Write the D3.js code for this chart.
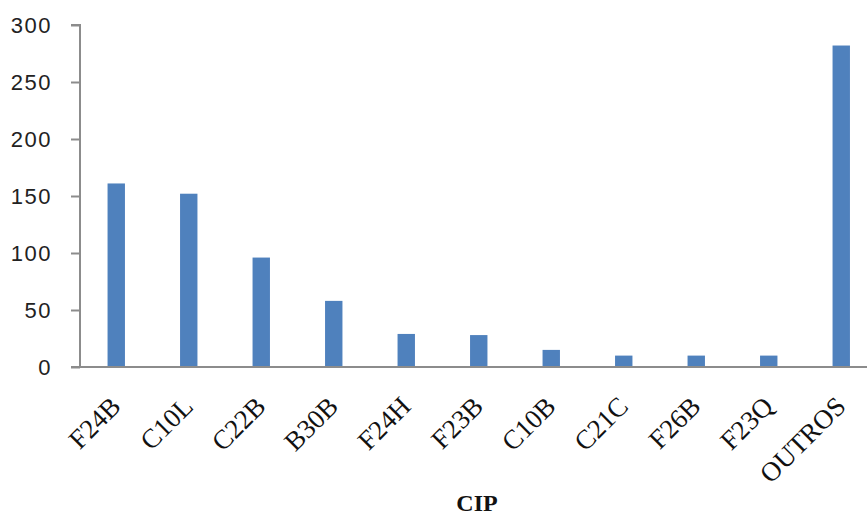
<!DOCTYPE html>
<html>
<head>
<meta charset="utf-8">
<script src="https://cdn.jsdelivr.net/npm/d3@7"></script>
<style>
  html, body { margin: 0; padding: 0; background: #fff; }
  svg { display: block; }
</style>
</head>
<body>
<svg id="chart" width="867" height="517"></svg>
<script>
const categories = ["F24B", "C10L", "C22B", "B30B", "F24H", "F23B", "C10B", "C21C", "F26B", "F23Q", "OUTROS"];
const values = [161, 152, 96, 58, 29, 28, 15, 10, 10, 10, 282];
const yTicks = [0, 50, 100, 150, 200, 250, 300];
const xTitle = "CIP";

const svg = d3.select("#chart");
const axisColor = "#8c8c8c";

const x = d3.scaleBand()
  .domain(categories)
  .range([80, 877.5])
  .paddingInner(0.76)
  .paddingOuter(0.38);

const y = d3.scaleLinear()
  .domain([0, 300])
  .range([367, 25]);

// bars
svg.append("g")
  .selectAll("rect")
  .data(categories.map((c, i) => ({c, v: values[i]})))
  .join("rect")
  .attr("x", d => x(d.c))
  .attr("y", d => y(d.v))
  .attr("width", x.bandwidth())
  .attr("height", d => y(0) - y(d.v))
  .attr("fill", "#4f81bd");

// y axis
const yAxis = d3.axisLeft(y).tickValues(yTicks).tickSize(9).tickPadding(19);
const gy = svg.append("g").attr("transform", "translate(80,0)").call(yAxis);
gy.select(".domain").attr("stroke", axisColor).attr("stroke-width", 2).attr("d", `M-9,${y(300)}H0V${y(0)}`);
gy.selectAll(".tick line").attr("stroke", axisColor).attr("stroke-width", 2);
gy.selectAll(".tick text")
  .attr("fill", "#222")
  .style("font-family", "'Liberation Sans', Arial, sans-serif")
  .style("font-size", "22px")
  .style("letter-spacing", "1.5px");

// x axis
const xAxis = d3.axisBottom(x).tickSize(0).tickPadding(0);
const gx = svg.append("g").attr("transform", `translate(0,${y(0)})`).call(xAxis);
gx.select(".domain").attr("stroke", axisColor).attr("stroke-width", 2).attr("d", "M71,0H867");
gx.selectAll(".tick text")
  .attr("fill", "#111")
  .style("font-family", "'Liberation Serif', 'Times New Roman', serif")
  .style("font-size", "27px")
  .attr("text-anchor", "end")
  .attr("dy", 0)
  .attr("y", 0)
  .attr("transform", "translate(6,41) rotate(-45)");

// x title
svg.append("text")
  .attr("x", 477)
  .attr("y", 511)
  .attr("text-anchor", "middle")
  .style("font-family", "'Liberation Serif', 'Times New Roman', serif")
  .style("font-size", "24px")
  .style("font-weight", "bold")
  .attr("fill", "#111")
  .text(xTitle);
</script>
</body>
</html>
